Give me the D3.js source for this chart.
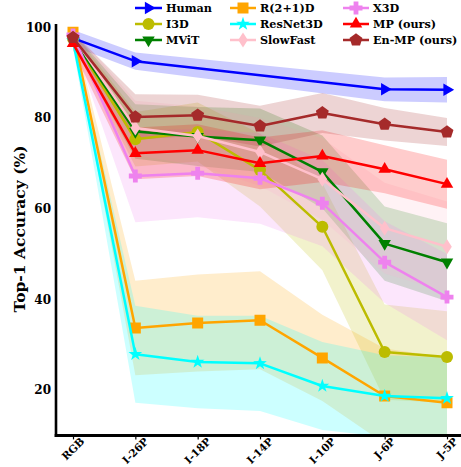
<!DOCTYPE html>
<html>
<head>
<meta charset="utf-8">
<script src="https://cdn.jsdelivr.net/npm/d3@7"></script>
<style>
  html, body { margin: 0; padding: 0; background: #fff; }
  svg { display: block; }
  text { font-family: "DejaVu Serif", serif; font-weight: bold; fill: #000; }
</style>
</head>
<body>
<svg id="chart" width="461" height="467"></svg>
<script>
// ---------------- data ----------------
const categories = ["RGB", "I-26P", "I-18P", "I-14P", "I-10P", "J-6P", "J-5P"];
const seriesNames = ["Human", "I3D", "MViT", "R(2+1)D", "ResNet3D", "SlowFast", "X3D", "MP (ours)", "En-MP (ours)"];
const yTicks = [20, 40, 60, 80, 100];

const humanAcc    = [97.6, 92.5, null, null, null, 86.3, 86.2];
const humanStd    = [1.8, 1.9, null, null, null, 2.6, 2.8];
const i3dAcc      = [97.5, 75.3, 76.9, 68.5, 56.0, 28.4, 27.3];
const i3dStd      = [1.5, 6.0, 6.5, 8.0, 9.6, 10.5, 10.1];
const mvitAcc     = [97.5, 77.0, 75.9, 75.1, 68.1, 52.3, 48.2];
const mvitStd     = [1.5, 6.0, 6.5, 7.0, 8.0, 8.2, 8.6];
const r21dAcc     = [98.9, 33.7, 34.8, 35.4, 27.1, 18.7, 17.2];
const r21dStd     = [1.0, 10.4, 10.7, 10.8, 9.5, 10.5, 10.0];
const resnetAcc   = [97.0, 27.9, 26.2, 25.9, 20.9, 18.7, 18.2];
const resnetStd   = [1.5, 10.7, 10.2, 10.5, 9.7, 9.0, 9.0];
const slowfastAcc = [98.0, 77.8, 76.0, 72.5, 66.5, 55.7, 51.6];
const slowfastStd = [1.5, 6.0, 6.5, 7.5, 9.0, 10.0, 10.0];
const x3dAcc      = [98.3, 67.2, 67.8, 66.7, 61.2, 48.2, 40.5];
const x3dStd      = [1.5, 10.2, 9.7, 10.0, 9.5, 9.0, 9.5];
const mpAcc       = [96.4, 72.2, 72.9, 70.0, 71.6, 68.7, 65.4];
const mpStd       = [1.5, 5.7, 5.7, 5.7, 5.7, 5.3, 5.4];
const enmpAcc     = [97.7, 80.2, 80.6, 78.2, 81.1, 78.6, 76.9];
const enmpStd     = [1.2, 5.0, 4.5, 4.5, 4.4, 3.6, 3.1];

const seriesValues = [humanAcc, i3dAcc, mvitAcc, r21dAcc, resnetAcc, slowfastAcc, x3dAcc, mpAcc, enmpAcc];
const seriesStds   = [humanStd, i3dStd, mvitStd, r21dStd, resnetStd, slowfastStd, x3dStd, mpStd, enmpStd];

// ---------------- styles ----------------
const colors  = ["#0000ff", "#bcbc00", "#008000", "#ffa500", "#00ffff", "#ffc0cb", "#ee82ee", "#ff0000", "#a52a2a"];
const markers = ["tri-right", "circle", "tri-down", "square", "star", "thin-diamond", "plus", "tri-up", "pentagon"];

function markerPath(type) {
  const p = d3.path();
  const poly = pts => { pts.forEach((q, i) => i ? p.lineTo(q[0], q[1]) : p.moveTo(q[0], q[1])); p.closePath(); };
  const tri = (r, angDeg) => {
    const pts = [];
    for (let k = 0; k < 3; k++) {
      const a = (angDeg + k * 120) * Math.PI / 180;
      pts.push([r * Math.cos(a), r * Math.sin(a)]);
    }
    poly(pts);
  };
  switch (type) {
    case "circle": p.arc(0, 0, 6, 0, 2 * Math.PI); break;
    case "square": poly([[-5.5, -5.5], [5.5, -5.5], [5.5, 5.5], [-5.5, 5.5]]); break;
    case "tri-up": tri(7.2, -90); break;
    case "tri-down": tri(7.2, 90); break;
    case "tri-right": tri(7.2, 0); break;
    case "thin-diamond": poly([[0, -7.5], [4.8, 0], [0, 7.5], [-4.8, 0]]); break;
    case "pentagon": {
      const pts = [];
      for (let k = 0; k < 5; k++) { const a = (-90 + 72 * k) * Math.PI / 180; pts.push([6.8 * Math.cos(a), 6.8 * Math.sin(a)]); }
      poly(pts); break;
    }
    case "star": {
      const pts = [];
      for (let k = 0; k < 10; k++) { const r = k % 2 ? 2.8 : 7.2; const a = (-90 + 36 * k) * Math.PI / 180; pts.push([r * Math.cos(a), r * Math.sin(a)]); }
      poly(pts); break;
    }
    case "plus": {
      const w = 2.4, l = 6.5;
      poly([[-w, -l], [w, -l], [w, -w], [l, -w], [l, w], [w, w], [w, l], [-w, l], [-w, w], [-l, w], [-l, -w], [-w, -w]]);
      break;
    }
  }
  return p.toString();
}

// ---------------- chart ----------------
const svg = d3.select("#chart");
const plotLeft = 56, plotBottom = 435.5, plotTop = 24;

const x = d3.scalePoint().domain(categories).range([73, 447]);
const y = d3.scaleLinear().domain([10, 100.7]).range([plotBottom, plotTop]);

svg.append("defs").append("clipPath").attr("id", "plotclip")
  .append("rect").attr("x", plotLeft).attr("y", 0).attr("width", 461 - plotLeft).attr("height", plotBottom);

const rows = seriesNames.map((name, i) => ({
  name, color: colors[i], marker: markers[i],
  pts: categories.map((c, j) => ({ c, v: seriesValues[i][j], s: seriesStds[i][j] })).filter(d => d.v !== null)
}));

const plot = svg.append("g").attr("clip-path", "url(#plotclip)");

const area = d3.area().x(d => x(d.c)).y0(d => y(d.v - d.s)).y1(d => y(d.v + d.s));
const line = d3.line().x(d => x(d.c)).y(d => y(d.v));

plot.selectAll("path.band").data(rows).join("path")
  .attr("class", "band")
  .attr("d", d => area(d.pts))
  .attr("fill", d => d.color)
  .attr("fill-opacity", 0.2)
  .attr("stroke", "none");

rows.forEach(r => {
  const g = plot.append("g");
  g.append("path").attr("d", line(r.pts)).attr("fill", "none")
    .attr("stroke", r.color).attr("stroke-width", 2.5).attr("stroke-linejoin", "round");
  g.selectAll("path.m").data(r.pts).join("path").attr("class", "m")
    .attr("transform", d => `translate(${x(d.c)},${y(d.v)})`)
    .attr("d", markerPath(r.marker)).attr("fill", r.color);
});

// axes
const yAxis = svg.append("g").attr("transform", `translate(${plotLeft},0)`)
  .call(d3.axisLeft(y).tickValues(yTicks).tickSize(0).tickPadding(5).tickFormat(d3.format("d")));
yAxis.select(".domain").remove();
yAxis.selectAll("text").style("font-size", "12px").style("font-family", "DejaVu Serif").style("font-weight", "bold");

svg.append("line").attr("x1", plotLeft).attr("x2", plotLeft).attr("y1", plotTop).attr("y2", plotBottom + 1.5)
  .attr("stroke", "#000").attr("stroke-width", 2.6);
svg.append("line").attr("x1", plotLeft - 1.3).attr("x2", 461).attr("y1", plotBottom).attr("y2", plotBottom)
  .attr("stroke", "#000").attr("stroke-width", 2.8);

const xAxis = svg.append("g").attr("transform", `translate(0,${plotBottom + 1.4})`)
  .call(d3.axisBottom(x).tickSize(2.5).tickFormat(""));
xAxis.select(".domain").remove();
xAxis.selectAll("line").attr("stroke", "#000").attr("stroke-width", 1.2);

const xl = svg.append("g");
categories.forEach(c => {
  const t = xl.append("text").text(c).style("font-size", "10.5px").attr("text-anchor", "middle");
  const len = t.node().getComputedTextLength();
  const half = (len + 7) * Math.SQRT1_2 / 2;
  t.attr("transform", `translate(${x(c)},${437 + half}) rotate(-45)`).attr("dy", "0.35em");
});

svg.append("text").text("Top-1 Accuracy (%)")
  .attr("transform", `translate(25,229) rotate(-90)`)
  .attr("text-anchor", "middle").style("font-size", "15.5px");

// legend
const legCols = [[135, 162, 166], [230, 256, 260], [343, 369, 373]];
const legRows = [8, 24, 40];
rows.forEach((r, i) => {
  const col = legCols[Math.floor(i / 3)], yy = legRows[i % 3];
  const g = svg.append("g");
  g.append("line").attr("x1", col[0]).attr("x2", col[1]).attr("y1", yy).attr("y2", yy)
    .attr("stroke", r.color).attr("stroke-width", 2.5);
  g.append("path").attr("transform", `translate(${(col[0] + col[1]) / 2},${yy})`)
    .attr("d", markerPath(r.marker)).attr("fill", r.color);
  g.append("text").text(r.name).attr("x", col[2]).attr("y", yy).attr("dy", "0.36em").style("font-size", "11.2px");
});
</script>
</body>
</html>
